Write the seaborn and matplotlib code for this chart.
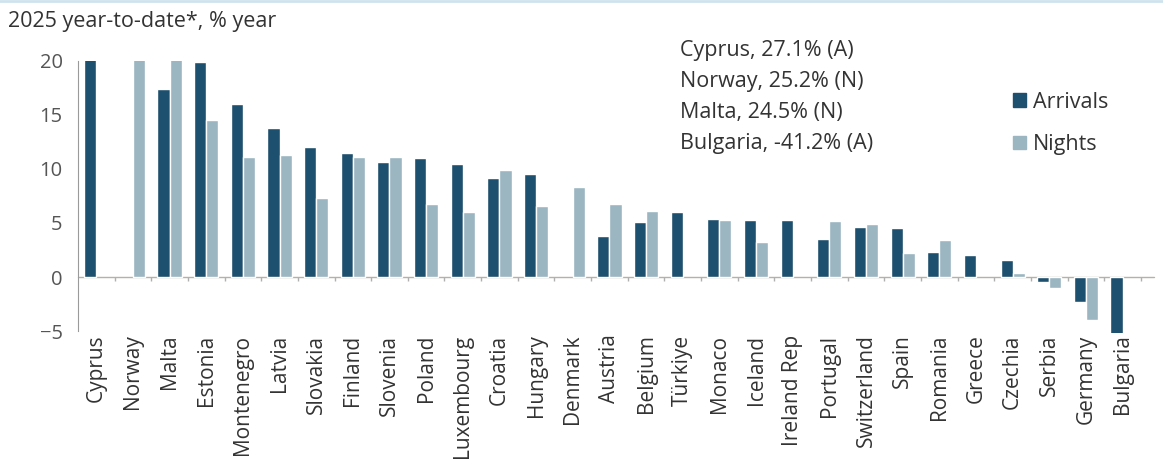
import matplotlib
matplotlib.use("Agg")
import matplotlib.pyplot as plt
import numpy as np
import pandas as pd
import seaborn as sns
from matplotlib.lines import Line2D

# --- dane ---
countries = ["Cyprus", "Norway", "Malta", "Estonia", "Montenegro", "Latvia", "Slovakia",
             "Finland", "Slovenia", "Poland", "Luxembourg", "Croatia", "Hungary", "Denmark",
             "Austria", "Belgium", "Türkiye", "Monaco", "Iceland", "Ireland Rep", "Portugal",
             "Switzerland", "Spain", "Romania", "Greece", "Czechia", "Serbia", "Germany",
             "Bulgaria"]
arrivals = [27.1, np.nan, 17.4, 19.9, 16.0, 13.8, 12.0, 11.5, 10.6, 11.0, 10.5, 9.2, 9.5,
            np.nan, 3.8, 5.1, 6.0, 5.4, 5.3, 5.3, 3.5, 4.6, 4.5, 2.3, 2.0, 1.6, -0.5, -2.3,
            -41.2]
nights = [np.nan, 25.2, 24.5, 14.5, 11.1, 11.3, 7.3, 11.1, 11.1, 6.8, 6.0, 9.9, 6.6, 8.3,
          6.8, 6.1, np.nan, 5.3, 3.2, np.nan, 5.2, 4.9, 2.2, 3.4, np.nan, 0.4, -1.0, -4.0,
          np.nan]
notes = ["Cyprus, 27.1% (A)", "Norway, 25.2% (N)", "Malta, 24.5% (N)", "Bulgaria, -41.2% (A)"]
subtitle = "2025 year-to-date*, % year"

COL_A = "#1d4f6e"
COL_N = "#9bb6c0"
GREY = "#555555"
TXT = "#333333"

df = pd.DataFrame({"country": countries, "Arrivals": arrivals, "Nights": nights})
df_long = df.melt(id_vars="country", var_name="series", value_name="value").dropna()

sns.set_style("white")
plt.rcParams["font.family"] = ["Open Sans", "DejaVu Sans"]

fig = plt.figure(figsize=(11.63, 4.71), dpi=100)
ax = fig.add_axes([0.067, 0.2926, 0.914, 0.578])

sns.barplot(data=df_long, x="country", y="value", hue="series", order=countries,
            hue_order=["Arrivals", "Nights"], palette=[COL_A, COL_N], width=0.66,
            saturation=1, errorbar=None, ax=ax, legend=False)

n = len(countries)
ax.set_xlim(-0.5, n - 0.5)
ax.set_ylim(-5.2, 20)
ax.set_yticks([-5, 0, 5, 10, 15, 20])
ax.set_xlabel("")
ax.set_ylabel("")

for s in ["top", "right", "bottom"]:
    ax.spines[s].set_visible(False)
ax.spines["left"].set_color("#9a9a9a")
ax.spines["left"].set_bounds(-5, 20)
ax.tick_params(axis="y", length=5, color="#9a9a9a", labelsize=14.5, labelcolor=GREY, pad=6)
ax.tick_params(axis="x", length=0, labelsize=15, labelcolor=TXT, pad=1)
plt.setp(ax.get_xticklabels(), rotation=90)

# linia zera + kreski między krajami
ax.axhline(0, xmax=1.012, color="#b8b0a8", lw=1.0, zorder=0, clip_on=False)
ax.vlines(np.arange(n) + 0.5, -0.35, 0, color="#b0b0b0", lw=1.0, clip_on=False)

# adnotacje
for i, t in enumerate(notes):
    fig.text(0.585, 0.893 - i * 0.066, t, fontsize=15.5, color=TXT, va="center")

handles = [plt.Rectangle((0, 0), 1, 1, color=COL_A), plt.Rectangle((0, 0), 1, 1, color=COL_N)]
fig.legend(handles, ["Arrivals", "Nights"], loc="center left", bbox_to_anchor=(0.862, 0.738),
           frameon=False, fontsize=15.5, handlelength=0.6, handleheight=0.6, borderpad=0,
           handletextpad=0.3, labelspacing=1.0, labelcolor=TXT)

fig.text(0.007, 0.955, subtitle, fontsize=15.5, color=TXT, va="center")
fig.add_artist(Line2D([0, 1], [0.997, 0.997], color="#cfe3ee", lw=2, transform=fig.transFigure))

fig.savefig("out.png", dpi=100)
